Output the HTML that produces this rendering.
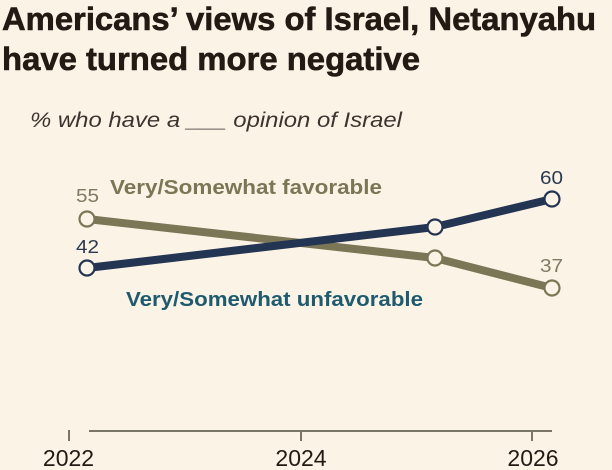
<!DOCTYPE html>
<html>
<head>
<meta charset="utf-8">
<style>
  html, body { margin:0; padding:0; background:#fcf3e7; }
  body { width:612px; height:470px; overflow:hidden; }
  svg { display:block; }
</style>
</head>
<body>
<svg width="612" height="470" viewBox="0 0 612 470" xmlns="http://www.w3.org/2000/svg">
  <rect width="612" height="470" fill="#fcf3e7"/>
  <!-- Title -->
  <g font-family="'Liberation Sans Narrow','Liberation Sans',sans-serif" font-weight="bold" font-size="32" fill="#231a14" stroke="#231a14" stroke-width="0.6">
    <text x="2" y="30" textLength="594" lengthAdjust="spacingAndGlyphs">Americans’ views of Israel, Netanyahu</text>
    <text x="2" y="70" textLength="418" lengthAdjust="spacingAndGlyphs">have turned more negative</text>
  </g>
  <!-- Subtitle -->
  <text x="30" y="127" font-family="'Liberation Sans',sans-serif" font-style="italic" font-size="21" fill="#3b3530" textLength="372" lengthAdjust="spacingAndGlyphs">% who have a ___ opinion of Israel</text>

  <!-- Axis -->
  <line x1="89" y1="431" x2="552" y2="431" stroke="#7a7666" stroke-width="2"/>
  <line x1="69" y1="430" x2="69" y2="441" stroke="#7a7666" stroke-width="2"/>
  <line x1="301" y1="430" x2="301" y2="441" stroke="#7a7666" stroke-width="2"/>
  <line x1="532" y1="430" x2="532" y2="441" stroke="#7a7666" stroke-width="2"/>
  <g font-family="'Liberation Sans',sans-serif" font-size="23" fill="#231a14" text-anchor="middle">
    <text x="68.5" y="466">2022</text>
    <text x="301" y="466">2024</text>
    <text x="533" y="466">2026</text>
  </g>

  <!-- Favorable series -->
  <polyline points="87,219 435,258 552,288" fill="none" stroke="#7b7656" stroke-width="8" stroke-linejoin="round"/>
  <!-- Unfavorable series -->
  <polyline points="87,268 435,227 552,199" fill="none" stroke="#233552" stroke-width="8" stroke-linejoin="round"/>

  <g stroke-width="2.2" fill="#fcf3e7">
    <circle cx="87" cy="219" r="7.5" stroke="#7b7656"/>
    <circle cx="435" cy="258" r="7.5" stroke="#7b7656"/>
    <circle cx="552" cy="288" r="7.5" stroke="#7b7656"/>
    <circle cx="87" cy="268" r="7.5" stroke="#233552"/>
    <circle cx="435" cy="227" r="7.5" stroke="#233552"/>
    <circle cx="552" cy="199" r="7.5" stroke="#233552"/>
  </g>

  <!-- Value labels -->
  <g font-family="'Liberation Sans',sans-serif" font-size="18">
    <text x="76" y="202" fill="#7f7a62" textLength="23" lengthAdjust="spacingAndGlyphs">55</text>
    <text x="76" y="253" fill="#2b3a50" textLength="23" lengthAdjust="spacingAndGlyphs">42</text>
    <text x="540" y="184" fill="#2b3a50" textLength="23" lengthAdjust="spacingAndGlyphs">60</text>
    <text x="540" y="272" fill="#7f7a62" textLength="23" lengthAdjust="spacingAndGlyphs">37</text>
  </g>

  <!-- Series labels -->
  <g font-family="'Liberation Sans',sans-serif" font-weight="bold" font-size="20">
    <text x="110" y="194" fill="#7b7656" textLength="272" lengthAdjust="spacingAndGlyphs">Very/Somewhat favorable</text>
    <text x="126" y="306" fill="#1f5b6f" textLength="297" lengthAdjust="spacingAndGlyphs">Very/Somewhat unfavorable</text>
  </g>
</svg>
</body>
</html>
